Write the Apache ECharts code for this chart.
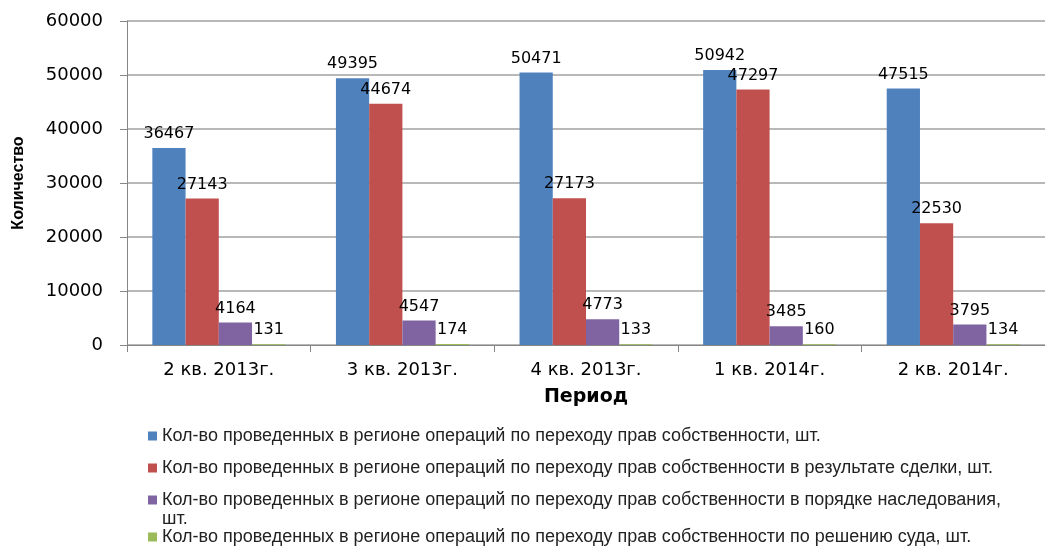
<!DOCTYPE html>
<html>
<head>
<meta charset="utf-8">
<script src="https://cdn.jsdelivr.net/npm/echarts@6/dist/echarts.min.js"></script>
<style>
html,body{margin:0;padding:0;background:#fff;}
#chart{width:1045px;height:546px;}
</style>
</head>
<body>
<div id="chart"></div>
<script>
const categories = ['2 кв. 2013г.', '3 кв. 2013г.', '4 кв. 2013г.', '1 кв. 2014г.', '2 кв. 2014г.'];
const seriesNames = [
  'Кол-во проведенных в регионе операций по переходу прав собственности, шт.',
  'Кол-во проведенных в регионе операций по переходу прав собственности в результате сделки, шт.',
  'Кол-во проведенных в регионе операций по переходу прав собственности в порядке наследования, шт.',
  'Кол-во проведенных в регионе операций по переходу прав собственности по решению суда, шт.'
];
const totalOps = [36467, 49395, 50471, 50942, 47515];
const dealOps = [27143, 44674, 27173, 47297, 22530];
const inheritOps = [4164, 4547, 4773, 3485, 3795];
const courtOps = [131, 174, 133, 160, 134];
const yTicks = [0, 10000, 20000, 30000, 40000, 50000, 60000];

const colors = ['#4F81BD', '#C0504D', '#8064A2', '#9BBB59'];
const seriesData = [totalOps, dealOps, inheritOps, courtOps];

const chart = echarts.init(document.getElementById('chart'));
const legendTops = [427, 459, 491, 528];
const legendFont = {fontFamily: 'Liberation Sans, sans-serif', fontSize: 18, color: '#222'};

const option = {
  animation: false,
  grid: {left: 127, top: 21, width: 925, height: 324, containLabel: false},
  legend: seriesNames.map((n, i) => ({
    data: [n],
    orient: 'vertical',
    left: 148,
    top: legendTops[i],
    padding: 0,
    itemWidth: 9,
    itemHeight: 9,
    icon: 'rect',
    textStyle: legendFont,
    formatter: i === 2 ? (s => s.replace(/ шт\.$/, '')) : undefined
  })),
  graphic: [{
    type: 'text',
    left: 162,
    top: 510,
    style: {text: 'шт.', font: '18px "Liberation Sans", sans-serif', fill: '#222'}
  }],
  xAxis: {
    type: 'category',
    data: categories,
    name: 'Период',
    nameLocation: 'middle',
    nameGap: 43,
    nameTextStyle: {fontFamily: 'DejaVu Sans', fontWeight: 'bold', fontSize: 19, color: '#000'},
    axisLine: {lineStyle: {color: '#868686', width: 1}},
    axisTick: {show: true, length: 7, lineStyle: {color: '#868686'}},
    axisLabel: {fontFamily: 'DejaVu Sans', fontSize: 18, color: '#000', margin: 16}
  },
  yAxis: {
    type: 'value',
    min: yTicks[0],
    max: yTicks[yTicks.length - 1],
    interval: yTicks[1] - yTicks[0],
    name: 'Количество',
    nameLocation: 'middle',
    nameGap: 100,
    nameTextStyle: {fontFamily: 'Liberation Sans', fontWeight: 'bold', fontSize: 16, color: '#000'},
    axisLine: {show: true, lineStyle: {color: '#868686', width: 1}},
    axisTick: {show: true, length: 7, lineStyle: {color: '#868686'}},
    splitLine: {lineStyle: {color: '#A0A0A0', width: 1.5}},
    axisLabel: {fontFamily: 'DejaVu Sans', fontSize: 18, color: '#000', margin: 24, formatter: v => String(v)}
  },
  series: seriesNames.map((n, i) => ({
    name: n,
    type: 'bar',
    data: seriesData[i],
    barGap: '0%',
    barCategoryGap: '27.6%',
    itemStyle: {color: colors[i]},
    label: {
      show: true,
      position: 'top',
      distance: 6,
      fontFamily: 'DejaVu Sans',
      fontSize: 16,
      color: '#000'
    }
  }))
};
chart.setOption(option);
</script>
</body>
</html>
